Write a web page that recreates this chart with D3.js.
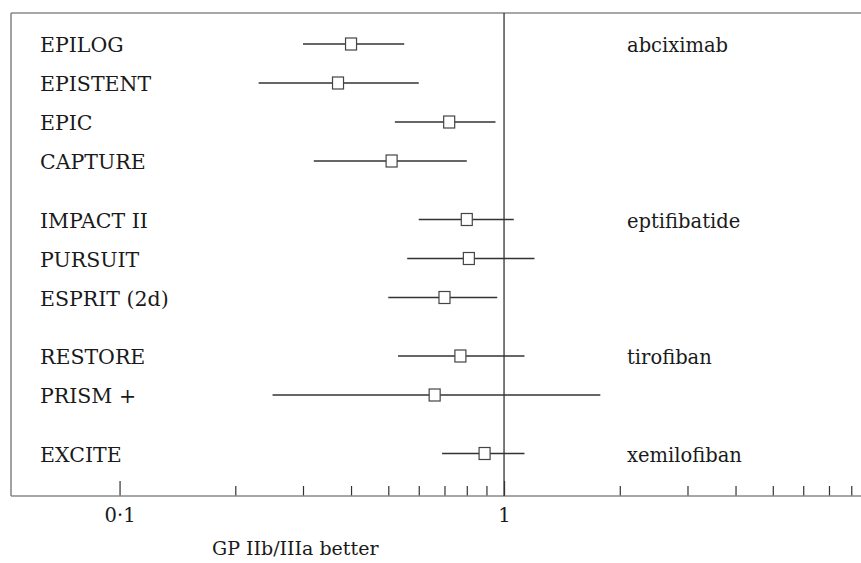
<!DOCTYPE html>
<html>
<head>
<meta charset="utf-8">
<script src="https://cdn.jsdelivr.net/npm/d3@7"></script>
<style>
  body { margin: 0; background: #fff; }
  svg { display: block; }
  text { font-family: 'DejaVu Serif', serif; fill: #1a1a1a; }
</style>
</head>
<body>
<div id="chart"></div>
<script>
// trials, top to bottom
const trials = ['EPILOG', 'EPISTENT', 'EPIC', 'CAPTURE', 'IMPACT II', 'PURSUIT',
  'ESPRIT (2d)', 'RESTORE', 'PRISM +', 'EXCITE']
// drug group of each trial (index into drugs)
const trialGroup = [0, 0, 0, 0, 1, 1, 1, 2, 2, 3]
const drugs = ['abciximab', 'eptifibatide', 'tirofiban', 'xemilofiban']
// odds ratio, lower and upper 95% CI
const oddsRatio = [0.40, 0.37, 0.72, 0.51, 0.80, 0.81, 0.70, 0.77, 0.66, 0.89]
const lowerCI = [0.30, 0.23, 0.52, 0.32, 0.60, 0.56, 0.50, 0.53, 0.25, 0.69]
const upperCI = [0.55, 0.60, 0.95, 0.80, 1.06, 1.20, 0.96, 1.13, 1.78, 1.13]

const xDomain = [0.0522, 8.48]
const xTicks = [0.1, 0.2, 0.3, 0.4, 0.5, 0.6, 0.7, 0.8, 0.9, 1, 2, 3, 4, 5, 6, 7, 8]
const xLabels = { 0.1: '0·1', 1: '1' }
const xTitle = 'GP IIb/IIIa better'

const width = 861
const height = 563
const frame = { left: 11, top: 13, bottom: 496 }

const svg = d3.select('#chart').append('svg')
  .attr('width', width)
  .attr('height', height)

const x = d3.scaleLog().domain(xDomain).range([frame.left, width])

// row positions: regular step plus an extra gap between drug groups
const rowStep = 39
const groupGap = 19.5
const y = (i) => 44 + i * rowStep + trialGroup[i] * groupGap

// frame: top and left edges
svg.append('line')
  .attr('x1', frame.left).attr('x2', width)
  .attr('y1', frame.top).attr('y2', frame.top)
  .attr('stroke', '#8a8a8a').attr('stroke-width', 1.6)
svg.append('line')
  .attr('x1', frame.left).attr('x2', frame.left)
  .attr('y1', frame.top).attr('y2', frame.bottom)
  .attr('stroke', '#8a8a8a').attr('stroke-width', 1.6)

// x axis with ticks pointing up
const xAxis = d3.axisBottom(x)
  .tickValues(xTicks)
  .tickSizeOuter(0)
  .tickFormat((d) => xLabels[d] || '')

const axisG = svg.append('g')
  .attr('transform', 'translate(0,' + frame.bottom + ')')
  .call(xAxis)

axisG.select('.domain').remove()
axisG.selectAll('.tick line')
  .attr('y2', (d) => xLabels[d] ? -15 : -10)
  .attr('stroke', '#333')
  .attr('stroke-width', 1.2)
axisG.selectAll('.tick text')
  .attr('y', 26)
  .attr('dy', 0)
  .attr('font-size', 19.5)
  .attr('font-family', 'DejaVu Serif, serif')
  .attr('fill', '#1a1a1a')

svg.append('line')
  .attr('x1', frame.left).attr('x2', width)
  .attr('y1', frame.bottom).attr('y2', frame.bottom)
  .attr('stroke', '#8a8a8a').attr('stroke-width', 1.6)

// line of no effect
svg.append('line')
  .attr('x1', x(1)).attr('x2', x(1))
  .attr('y1', frame.top).attr('y2', frame.bottom)
  .attr('stroke', '#333').attr('stroke-width', 1.3)

const rows = svg.append('g').selectAll('g')
  .data(trials)
  .enter()
  .append('g')

rows.append('text')
  .attr('x', 40)
  .attr('y', (d, i) => y(i) + 8)
  .attr('font-size', 20.5)
  .text((d) => d)

rows.append('line')
  .attr('x1', (d, i) => x(lowerCI[i]))
  .attr('x2', (d, i) => x(upperCI[i]))
  .attr('y1', (d, i) => y(i))
  .attr('y2', (d, i) => y(i))
  .attr('stroke', '#333')
  .attr('stroke-width', 1.5)

rows.append('rect')
  .attr('x', (d, i) => x(oddsRatio[i]) - 5.5)
  .attr('y', (d, i) => y(i) - 6)
  .attr('width', 11)
  .attr('height', 12)
  .attr('fill', '#fff')
  .attr('stroke', '#444')
  .attr('stroke-width', 1.2)

// drug name on the first row of each group
svg.append('g').selectAll('text')
  .data(drugs)
  .enter()
  .append('text')
  .attr('x', 627)
  .attr('y', (d, g) => y(trialGroup.indexOf(g)) + 8)
  .attr('font-size', 19.5)
  .text((d) => d)

svg.append('text')
  .attr('x', 212)
  .attr('y', 555)
  .attr('font-size', 19)
  .text(xTitle)
</script>
</body>
</html>
